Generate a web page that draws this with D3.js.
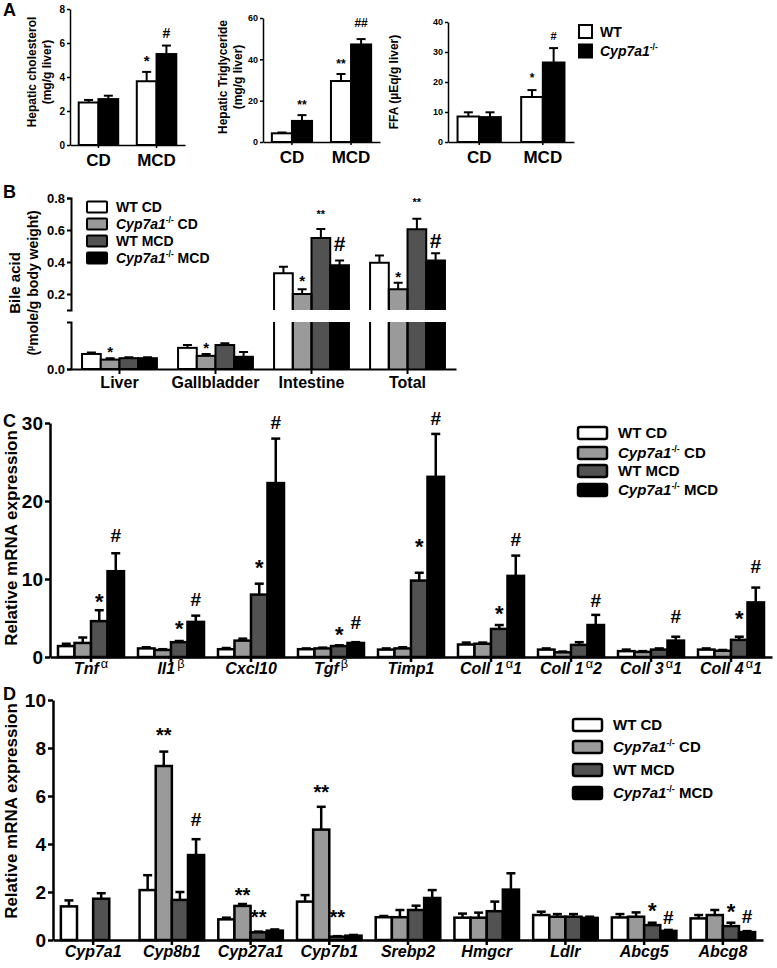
<!DOCTYPE html>
<html>
<head>
<meta charset="utf-8">
<script src="https://cdn.jsdelivr.net/npm/d3@7/dist/d3.min.js"></script>
<style>
html,body{margin:0;padding:0;background:#fff;}
</style>
</head>
<body>
<svg id="fig" width="777" height="968"></svg>
<script>
// ================= DATA =================
const seriesNames = ["WT CD", "Cyp7a1-/- CD", "WT MCD", "Cyp7a1-/- MCD"];
const aSeriesNames = ["WT", "Cyp7a1-/-"];

// ---- Panel A ----
const aCategories = ["CD", "MCD"];
const cholWT = [2.5, 3.75];   const cholWTErr = [0.15, 0.55];
const cholKO = [2.7, 5.35];   const cholKOErr = [0.2, 0.5];
const cholTicks = [0, 2, 4, 6, 8];
const cholMarks = [["MCD", 0, "*", 5.18], ["MCD", 1, "#", 6.59]];

const tgWT = [4.2, 29.5];     const tgWTErr = [0.4, 3.4];
const tgKO = [10.2, 47.2];    const tgKOErr = [2.8, 2.6];
const tgTicks = [0, 20, 40, 60];
const tgMarks = [["CD", 1, "**", 19.4], ["MCD", 0, "**", 39.2], ["MCD", 1, "##", 57.6]];

const ffaWT = [8.5, 15.0];    const ffaWTErr = [1.4, 2.3];
const ffaKO = [8.3, 26.5];    const ffaKOErr = [1.6, 4.8];
const ffaTicks = [0, 10, 20, 30, 40];
const ffaMarks = [["MCD", 0, "*", 22.3], ["MCD", 1, "#", 35.3]];

// ---- Panel B ----
const bCategories = ["Liver", "Gallbladder", "Intestine", "Total"];
const bWTCD  = [0.032, 0.045, 0.33, 0.395]; const bWTCDErr  = [0.003, 0.006, 0.04, 0.045];
const bKOCD  = [0.020, 0.028, 0.20, 0.23];  const bKOCDErr  = [0.003, 0.004, 0.03, 0.04];
const bWTMCD = [0.023, 0.051, 0.55, 0.605]; const bWTMCDErr = [0.002, 0.004, 0.056, 0.065];
const bKOMCD = [0.023, 0.026, 0.38, 0.41];  const bKOMCDErr = [0.002, 0.010, 0.03, 0.045];
const bTicksUpper = [0.2, 0.4, 0.6, 0.8];
const bTicksLower = [0.0];
const bMarks = [["Liver", 1, "*", 0.0447], ["Gallbladder", 1, "*", 0.053],
  ["Intestine", 1, "*", 0.306], ["Intestine", 2, "**", 0.7125], ["Intestine", 3, "#", 0.519],
  ["Total", 1, "*", 0.331], ["Total", 2, "**", 0.7875], ["Total", 3, "#", 0.5375]];

// ---- Panel C ----
const cCategories = ["Tnfα", "Il1β", "Cxcl10", "Tgfβ", "Timp1", "Coll 1α1", "Coll 1α2", "Coll 3α1", "Coll 4α1"];
const cWTCD  = [1.4, 1.1, 1.0, 1.0, 0.95, 1.6, 0.95, 0.75, 0.95];
const cWTCDErr = [0.3, 0.15, 0.15, 0.1, 0.15, 0.25, 0.15, 0.2, 0.15];
const cKOCD  = [1.8, 0.9, 2.1, 1.1, 1.1, 1.7, 0.6, 0.65, 0.8];
const cKOCDErr = [0.7, 0.1, 0.25, 0.1, 0.15, 0.15, 0.1, 0.1, 0.1];
const cWTMCD = [4.6, 1.9, 8.0, 1.4, 9.8, 3.6, 1.55, 0.95, 2.2];
const cWTMCDErr = [1.4, 0.15, 1.4, 0.1, 1.0, 0.5, 0.35, 0.15, 0.4];
const cKOMCD = [11.0, 4.5, 22.3, 1.8, 23.1, 10.4, 4.1, 2.1, 7.0];
const cKOMCDErr = [2.3, 0.8, 5.7, 0.1, 5.5, 2.6, 1.3, 0.5, 1.9];
const cTicks = [0, 10, 20, 30];
const cMarks = [["Tnfα", 2, "*", 7.8], ["Tnfα", 3, "#", 15.6], ["Il1β", 2, "*", 4.3], ["Il1β", 3, "#", 7.4],
  ["Cxcl10", 2, "*", 12.1], ["Cxcl10", 3, "#", 30.1], ["Tgfβ", 2, "*", 3.6], ["Tgfβ", 3, "#", 4.5],
  ["Timp1", 2, "*", 14.8], ["Timp1", 3, "#", 30.6], ["Coll 1α1", 2, "*", 6.2], ["Coll 1α1", 3, "#", 15.1],
  ["Coll 1α2", 3, "#", 7.3], ["Coll 3α1", 3, "#", 5.2], ["Coll 4α1", 2, "*", 5.6], ["Coll 4α1", 3, "#", 11.6]];

// ---- Panel D ----
const dCategories = ["Cyp7a1", "Cyp8b1", "Cyp27a1", "Cyp7b1", "Srebp2", "Hmgcr", "Ldlr", "Abcg5", "Abcg8"];
const dWTCD  = [1.4, 2.08, 0.86, 1.6, 0.95, 0.93, 1.04, 0.94, 0.9];
const dWTCDErr = [0.25, 0.62, 0.07, 0.27, 0.05, 0.17, 0.14, 0.14, 0.14];
const dKOCD  = [0, 7.25, 1.42, 4.6, 0.95, 0.93, 0.97, 0.97, 1.04];
const dKOCDErr = [0, 0.6, 0.08, 0.95, 0.3, 0.21, 0.11, 0.18, 0.21];
const dWTMCD = [1.72, 1.67, 0.32, 0.14, 1.25, 1.2, 0.97, 0.62, 0.58];
const dWTMCDErr = [0.23, 0.33, 0.03, 0.02, 0.18, 0.4, 0.11, 0.1, 0.14];
const dKOMCD = [0, 3.54, 0.39, 0.18, 1.75, 2.1, 0.92, 0.38, 0.33];
const dKOMCDErr = [0, 0.66, 0.05, 0.03, 0.33, 0.68, 0.05, 0.04, 0.04];
const dTicks = [0, 2, 4, 6, 8, 10];
const dMarks = [["Cyp8b1", 1, "**", 8.75], ["Cyp8b1", 3, "#", 5.04], ["Cyp27a1", 1, "**", 2.08],
  ["Cyp27a1", 2, "**", 1.17], ["Cyp7b1", 1, "**", 6.375], ["Cyp7b1", 2, "**", 1.17],
  ["Abcg5", 2, "*", 1.46], ["Abcg5", 3, "#", 0.96], ["Abcg8", 2, "*", 1.39], ["Abcg8", 3, "#", 1.0]];

// ================= DRAWING =================
const FONT = '"Liberation Sans", Arial, Helvetica, sans-serif';
const fills4 = ["#ffffff", "#9a9a9a", "#525252", "#000000"];
const fills2 = ["#ffffff", "#000000"];
const svg = d3.select("#fig").attr("font-family", FONT).attr("font-weight", "bold");
svg.append("rect").attr("width", 777).attr("height", 968).attr("fill", "#fff");

function barData(cats, vals, errs) {
  const data = [];
  cats.forEach((c, i) => vals.forEach((arr, s) => { if (arr[i] > 0) data.push({c, s, v: arr[i], e: errs[s][i]}); }));
  return data;
}

function bars(g, cats, vals, errs, fills, x, y, sw, capW) {
  const inner = d3.scaleBand().domain(d3.range(vals.length)).range([0, x.bandwidth()]);
  const data = barData(cats, vals, errs);
  const cx = d => x(d.c) + inner(d.s) + inner.bandwidth() / 2;
  g.append("g").selectAll("line").data(data).join("line")
    .attr("x1", cx).attr("x2", cx).attr("y1", d => y(d.v)).attr("y2", d => y(d.v + d.e))
    .attr("stroke", "#000").attr("stroke-width", sw);
  g.append("g").selectAll("line").data(data).join("line")
    .attr("x1", d => cx(d) - capW / 2).attr("x2", d => cx(d) + capW / 2)
    .attr("y1", d => y(d.v + d.e)).attr("y2", d => y(d.v + d.e))
    .attr("stroke", "#000").attr("stroke-width", sw);
  g.append("g").selectAll("rect").data(data).join("rect")
    .attr("x", d => x(d.c) + inner(d.s)).attr("width", inner.bandwidth())
    .attr("y", d => y(d.v)).attr("height", d => y(0) - y(d.v))
    .attr("fill", d => fills[d.s]).attr("stroke", "#000").attr("stroke-width", sw);
  return inner;
}

function marks(g, list, x, inner, y, sizes) {
  g.append("g").selectAll("text").data(list).join("text")
    .attr("x", d => x(d[0]) + inner(d[1]) + inner.bandwidth() / 2)
    .attr("y", d => y(d[3]) + (d[2][0] === "*" ? 0.58 : 0.36) * sizes[d[2]])
    .attr("text-anchor", "middle").attr("font-size", d => sizes[d[2]]).text(d => d[2]);
}

function yAxis(g, y, ticks, xPos, sw, fs, fmt, ts, outer) {
  const a = g.append("g").attr("transform", `translate(${xPos},0)`)
    .call(d3.axisLeft(y).tickValues(ticks).tickSize(ts).tickSizeOuter(outer || 0).tickPadding(2).tickFormat(fmt));
  a.attr("font-family", null).attr("font-size", null);
  a.select(".domain").attr("stroke-width", sw);
  a.selectAll(".tick line").attr("stroke-width", sw);
  a.selectAll(".tick text").attr("font-size", fs).attr("fill", "#000");
  return a;
}

function xAxis(g, x, yPos, sw, ts) {
  const a = g.append("g").attr("transform", `translate(0,${yPos})`)
    .call(d3.axisBottom(x).tickSize(ts).tickSizeOuter(0).tickFormat(""));
  a.attr("font-family", null).attr("font-size", null);
  a.select(".domain").attr("stroke-width", sw);
  a.selectAll(".tick line").attr("stroke-width", sw);
  return a;
}

function vLabel(g, txt, x, y, fs) {
  return g.append("text").attr("transform", `translate(${x},${y}) rotate(-90)`)
    .attr("text-anchor", "middle").attr("font-size", fs).text(txt);
}

function seriesLabel(sel, name, fs) {
  if (name.startsWith("Cyp7a1-/-")) {
    sel.append("tspan").attr("font-style", "italic").text("Cyp7a1");
    sel.append("tspan").attr("font-size", fs * 0.6).attr("dy", -fs * 0.4).text("-/-");
    const rest = name.slice(9);
    if (rest) sel.append("tspan").attr("dy", fs * 0.4).text(rest);
  } else sel.text(name);
}

function geneLabel(sel, name, fs) {
  const parts = name.split(/([αβ])/).filter(p => p !== "");
  let raised = false;
  parts.forEach(p => {
    const t = sel.append("tspan").text(p);
    if (/[αβ]/.test(p)) { t.attr("font-size", fs * 0.8).attr("font-style", "normal").attr("font-weight", "normal").attr("dy", -fs * 0.4).attr("dx", 2); raised = true; }
    else if (raised) { t.attr("dy", fs * 0.4); raised = false; }
  });
}

function legend(g, names, fills, x, ys, w, h, tx, fs, sw, rx) {
  names.forEach((n, i) => {
    g.append("rect").attr("x", x).attr("y", ys[i] - h / 2).attr("width", w).attr("height", h)
      .attr("rx", rx).attr("fill", fills[i]).attr("stroke", "#000").attr("stroke-width", sw);
    const t = g.append("text").attr("x", tx).attr("y", ys[i] + fs * 0.36).attr("font-size", fs);
    seriesLabel(t, n, fs);
  });
}

function panelLetter(t, x, y) {
  svg.append("text").attr("x", x).attr("y", y).attr("font-size", 18).text(t);
}

// ---------- Panel A ----------
panelLetter("A", 3, 16);
const aCharts = [
  {wt: cholWT, wtE: cholWTErr, ko: cholKO, koE: cholKOErr, ticks: cholTicks, mk: cholMarks,
   xr: [70, 185], yr: [145, 9], lab: ["Hepatic cholesterol", "(mg/g liver)"], lx: [36, 51], ly: 72, tfs: 10,
   ms: {"*": 15, "#": 14}},
  {wt: tgWT, wtE: tgWTErr, ko: tgKO, koE: tgKOErr, ticks: tgTicks, mk: tgMarks,
   xr: [263, 380], yr: [142, 18], lab: ["Hepatic Triglyceride", "(mg/g liver)"], lx: [227, 242], ly: 77, tfs: 9,
   ms: {"**": 12, "##": 12}},
  {wt: ffaWT, wtE: ffaWTErr, ko: ffaKO, koE: ffaKOErr, ticks: ffaTicks, mk: ffaMarks,
   xr: [448, 574], yr: [142, 22], lab: ["FFA (µEq/g liver)"], lx: [398], ly: 82, tfs: 9,
   ms: {"*": 12, "#": 11}}
];
aCharts.forEach(ch => {
  const g = svg.append("g");
  const x = d3.scaleBand().domain(aCategories).range(ch.xr).paddingInner(0.32).paddingOuter(0.15);
  const y = d3.scaleLinear().domain([0, d3.max(ch.ticks)]).range(ch.yr);
  const inner = bars(g, aCategories, [ch.wt, ch.ko], [ch.wtE, ch.koE], fills2, x, y, 2, 9);
  yAxis(g, y, ch.ticks, ch.xr[0], 1.5, ch.tfs, d3.format("d"), 3);
  xAxis(g, x, ch.yr[0], 1.5, 3);
  aCategories.forEach(c => g.append("text").attr("x", x(c) + x.bandwidth() / 2).attr("y", ch.yr[0] + 21)
    .attr("text-anchor", "middle").attr("font-size", 17).text(c));
  ch.lab.forEach((l, i) => vLabel(g, l, ch.lx[i], ch.ly, 12));
  marks(g, ch.mk, x, inner, y, ch.ms);
});
legend(svg.append("g"), aSeriesNames, fills2, 579, [31.5, 51], 13, 13, 600, 14, 2, 0);

// ---------- Panel B ----------
panelLetter("B", 3, 198);
{
  const g = svg.append("g");
  const x = d3.scaleBand().domain(bCategories).range([71, 456]).paddingInner(0.22).paddingOuter(0.115);
  const yU = d3.scaleLinear().domain([0.1, 0.8]).range([310, 198]);
  const yL = d3.scaleLinear().domain([0, 0.1]).range([369, 322]);
  const yB = v => (v <= 0.1 ? yL(v) : yU(v));
  const vals = [bWTCD, bKOCD, bWTMCD, bKOMCD];
  const errs = [bWTCDErr, bKOCDErr, bWTMCDErr, bKOMCDErr];
  const inner = d3.scaleBand().domain(d3.range(4)).range([0, x.bandwidth()]);
  const data = barData(bCategories, vals, errs);
  const bx = d => x(d.c) + inner(d.s);
  const bw = inner.bandwidth();
  const cx = d => bx(d) + bw / 2;
  const sw = 2;
  g.append("g").selectAll("path").data(data).join("path")
    .attr("d", d => `M${cx(d)},${yB(d.v)}V${yB(d.v + d.e)}M${cx(d) - 4.5},${yB(d.v + d.e)}H${cx(d) + 4.5}`)
    .attr("fill", "none").attr("stroke", "#000").attr("stroke-width", sw);
  g.append("g").selectAll("rect").data(data.filter(d => d.v <= 0.1)).join("rect")
    .attr("x", bx).attr("width", bw).attr("y", d => yL(d.v)).attr("height", d => yL(0) - yL(d.v))
    .attr("fill", d => fills4[d.s]).attr("stroke", "#000").attr("stroke-width", sw);
  const big = data.filter(d => d.v > 0.1);
  g.append("g").selectAll("rect").data(big).join("rect")
    .attr("x", bx).attr("width", bw).attr("y", yL(0.1)).attr("height", yL(0) - yL(0.1))
    .attr("fill", d => fills4[d.s]);
  g.append("g").selectAll("rect").data(big).join("rect")
    .attr("x", bx).attr("width", bw).attr("y", d => yU(d.v)).attr("height", d => yU(0.1) - yU(d.v))
    .attr("fill", d => fills4[d.s]);
  g.append("g").selectAll("path").data(big).join("path")
    .attr("d", d => `M${bx(d)},${yL(0)}V${yL(0.1)}M${bx(d) + bw},${yL(0.1)}V${yL(0)}` +
      `M${bx(d)},${yU(0.1)}V${yU(d.v)}H${bx(d) + bw}V${yU(0.1)}`)
    .attr("fill", "none").attr("stroke", "#000").attr("stroke-width", sw);
  yAxis(g, yU, bTicksUpper, 71, 2, 13, d3.format(".1f"), 4, 4);
  yAxis(g, yL, bTicksLower, 71, 2, 13, d3.format(".1f"), 4, 4);
  xAxis(g, x, 369, 2, 5);
  bCategories.forEach(c => g.append("text").attr("x", x(c) + x.bandwidth() / 2).attr("y", 388)
    .attr("text-anchor", "middle").attr("font-size", 16).text(c));
  vLabel(g, "Bile acid", 20, 283, 15);
  const l2 = g.append("text").attr("transform", "translate(38,283) rotate(-90)").attr("text-anchor", "middle").attr("font-size", 14);
  l2.append("tspan").text("(");
  l2.append("tspan").attr("font-size", 9).attr("dy", -5).text("µ");
  l2.append("tspan").attr("dy", 5).text("mole/g body weight)");
  g.append("g").selectAll("text").data(bMarks).join("text")
    .attr("x", d => x(d[0]) + inner(d[1]) + bw / 2)
    .attr("y", d => {
      const fs = d[2] === "#" ? 21 : d[2] === "**" ? 11 : 15;
      return yB(d[3]) + (d[2][0] === "*" ? 0.58 : 0.36) * fs;
    })
    .attr("text-anchor", "middle")
    .attr("font-size", d => d[2] === "#" ? 21 : d[2] === "**" ? 11 : 15).text(d => d[2]);
  legend(g, seriesNames, fills4, 87, [207, 224, 241, 258], 20, 11, 116, 14, 2, 1);
}

// ---------- Panel C ----------
panelLetter("C", 3, 427);
{
  const g = svg.append("g");
  const x = d3.scaleBand().domain(cCategories).range([50, 772]).paddingInner(0.175).paddingOuter(0.1);
  const y = d3.scaleLinear().domain([0, 30]).range([657, 423]);
  const inner = bars(g, cCategories, [cWTCD, cKOCD, cWTMCD, cKOMCD], [cWTCDErr, cKOCDErr, cWTMCDErr, cKOMCDErr], fills4, x, y, 2.5, 9);
  yAxis(g, y, cTicks, 50, 2.5, 19, d3.format("d"), 5);
  xAxis(g, x, 657, 2.5, 5);
  cCategories.forEach(c => {
    const t = g.append("text").attr("x", x(c) + x.bandwidth() / 2).attr("y", 674)
      .attr("text-anchor", "middle").attr("font-size", 16).attr("font-style", "italic");
    geneLabel(t, c, 16);
  });
  vLabel(g, "Relative mRNA expression", 17, 538, 17);
  marks(g, cMarks, x, inner, y, {"*": 22, "#": 19});
  legend(g, seriesNames, fills4, 578, [433, 453, 471, 490], 29, 12, 618, 15, 2.5, 2);
}

// ---------- Panel D ----------
panelLetter("D", 3, 700);
{
  const g = svg.append("g");
  const x = d3.scaleBand().domain(dCategories).range([53, 763]).paddingInner(0.18).paddingOuter(0.1);
  const y = d3.scaleLinear().domain([0, 10]).range([940, 700]);
  const inner = bars(g, dCategories, [dWTCD, dKOCD, dWTMCD, dKOMCD], [dWTCDErr, dKOCDErr, dWTMCDErr, dKOMCDErr], fills4, x, y, 2.5, 9);
  yAxis(g, y, dTicks, 53, 2.5, 19, d3.format("d"), 5);
  xAxis(g, x, 940, 2.5, 5);
  dCategories.forEach(c => {
    g.append("text").attr("x", x(c) + x.bandwidth() / 2).attr("y", 957)
      .attr("text-anchor", "middle").attr("font-size", 16).attr("font-style", "italic").text(c);
  });
  vLabel(g, "Relative mRNA expression", 17, 811, 17);
  marks(g, dMarks, x, inner, y, {"*": 22, "**": 20, "#": 19});
  legend(g, seriesNames, fills4, 573, [725, 747, 770, 793], 29, 12, 613, 15, 2.5, 2);
}
</script>
</body>
</html>
